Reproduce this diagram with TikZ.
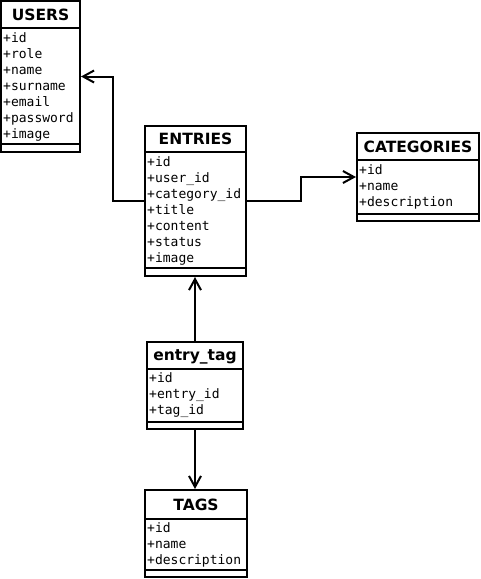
\documentclass[tikz,border=0pt]{standalone}
\usepackage{fontspec}
\setmainfont{DejaVu Sans}
\newfontfamily\attrfont{DejaVu Sans Mono}
\usetikzlibrary{arrows.meta}
\begin{document}
\begin{tikzpicture}[x=1pt,y=-1pt,
  box/.style={draw,line width=2pt,inner sep=0pt,fill=white},
  sep/.style={line width=2pt},
  ttl/.style={anchor=base,inner sep=0pt,font=\fontsize{15.5}{18}\selectfont\bfseries},
  attr/.style={anchor=mid west,inner sep=0pt,yshift=-2pt,font=\fontsize{13}{16}\attrfont},
  conn/.style={line width=2pt,-{Straight Barb[length=11pt,width=12pt,line width=2pt]}}]
\useasboundingbox (0,0) rectangle (480,579);
% USERS
\node[box,minimum width=79pt,minimum height=151pt] (users) at (40.5,76.5) {};
\draw[sep] (1,28) -- (80,28);
\draw[sep] (1,144) -- (80,144);
\node[ttl] (usersT) at (40.5,20) {USERS};
\node[attr] (u1) at (3,38) {+id};
\node[attr] (u2) at (3,54) {+role};
\node[attr] (u3) at (3,70) {+name};
\node[attr] (u4) at (3,86) {+surname};
\node[attr] (u5) at (3,102) {+email};
\node[attr] (u6) at (3,118) {+password};
\node[attr] (u7) at (3,134) {+image};
% ENTRIES
\node[box,minimum width=101pt,minimum height=150pt] (entries) at (195.5,201) {};
\draw[sep] (145,152) -- (246,152);
\draw[sep] (145,268) -- (246,268);
\node[ttl] (entriesT) at (195.5,144.5) {ENTRIES};
\node[attr] (e1) at (147,162) {+id};
\node[attr] (e2) at (147,178) {+user\_id};
\node[attr] (e3) at (147,194) {+category\_id};
\node[attr] (e4) at (147,210) {+title};
\node[attr] (e5) at (147,226) {+content};
\node[attr] (e6) at (147,242) {+status};
\node[attr] (e7) at (147,258) {+image};
% CATEGORIES
\node[box,minimum width=122pt,minimum height=88pt] (categories) at (418,177) {};
\draw[sep] (357,160) -- (479,160);
\draw[sep] (357,214) -- (479,214);
\node[ttl] (categoriesT) at (418,152) {CATEGORIES};
\node[attr] (c1) at (359,170) {+id};
\node[attr] (c2) at (359,186) {+name};
\node[attr] (c3) at (359,202) {+description};
% entry_tag
\node[box,minimum width=96pt,minimum height=87pt] (etag) at (195,385.5) {};
\draw[sep] (147,369) -- (243,369);
\draw[sep] (147,422) -- (243,422);
\node[ttl] (etagT) at (195,360.5) {entry\_tag};
\node[attr] (t1) at (149,378) {+id};
\node[attr] (t2) at (149,394) {+entry\_id};
\node[attr] (t3) at (149,410) {+tag\_id};
% TAGS
\node[box,minimum width=102pt,minimum height=87pt] (tags) at (196,533.5) {};
\draw[sep] (145,519) -- (247,519);
\draw[sep] (145,570) -- (247,570);
\node[ttl] (tagsT) at (196,510) {TAGS};
\node[attr] (g1) at (147,528) {+id};
\node[attr] (g2) at (147,544) {+name};
\node[attr] (g3) at (147,560) {+description};
% connectors
\draw[conn] (entries.west) -- ++(-31,0) |- (users.east);
\draw[conn] (entries.east) -- ++(54,0) |- (categories.west);
\draw[conn] (etag.north) -- (etag.north |- entries.south);
\draw[conn] (etag.south) -- (etag.south |- tags.north);
\end{tikzpicture}
\end{document}
